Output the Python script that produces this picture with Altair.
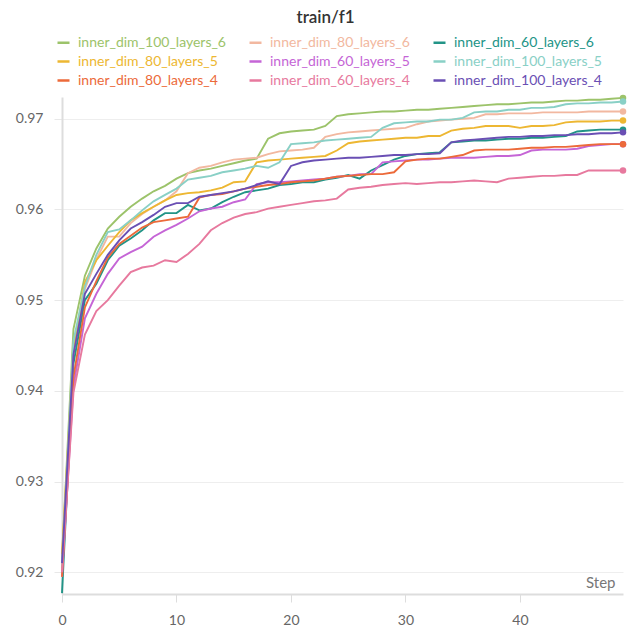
import altair as alt
import pandas as pd

steps = list(range(50))

series_names = [
    "inner_dim_100_layers_6", "inner_dim_80_layers_6", "inner_dim_60_layers_6",
    "inner_dim_80_layers_5", "inner_dim_60_layers_5", "inner_dim_100_layers_5",
    "inner_dim_80_layers_4", "inner_dim_60_layers_4", "inner_dim_100_layers_4",
]
series_colors = [
    "#9CC36A", "#F2B8A0", "#229487",
    "#EDB732", "#C565D6", "#89D0C6",
    "#EC6A3A", "#E7799E", "#6A4FB4",
]

dim100_l6 = [0.9215, 0.9468, 0.9527, 0.9557, 0.9579, 0.9592, 0.9603, 0.9612, 0.9620, 0.9626,
             0.9634, 0.9640, 0.9643, 0.9645, 0.9648, 0.9651, 0.9654, 0.9656, 0.9678, 0.9684,
             0.9686, 0.9687, 0.9688, 0.9692, 0.9703, 0.9705, 0.9706, 0.9707, 0.9708, 0.9708,
             0.9709, 0.9710, 0.9710, 0.9711, 0.9712, 0.9713, 0.9714, 0.9715, 0.9716, 0.9716,
             0.9717, 0.9718, 0.9718, 0.9719, 0.9720, 0.9720, 0.9721, 0.9721, 0.9722, 0.9723]
dim80_l6 = [0.9210, 0.9450, 0.9512, 0.9545, 0.9570, 0.9570, 0.9585, 0.9595, 0.9603, 0.9610,
            0.9620, 0.9640, 0.9646, 0.9648, 0.9652, 0.9655, 0.9656, 0.9657, 0.9661, 0.9664,
            0.9665, 0.9666, 0.9668, 0.9680, 0.9683, 0.9685, 0.9686, 0.9687, 0.9688, 0.9689,
            0.9690, 0.9694, 0.9697, 0.9698, 0.9699, 0.9700, 0.9701, 0.9705, 0.9705, 0.9706,
            0.9706, 0.9706, 0.9707, 0.9707, 0.9707, 0.9707, 0.9708, 0.9708, 0.9708, 0.9708]
dim60_l6 = [0.9177, 0.9430, 0.9500, 0.9518, 0.9544, 0.9560, 0.9568, 0.9577, 0.9588, 0.9596,
            0.9596, 0.9605, 0.9599, 0.9601, 0.9608, 0.9614, 0.9619, 0.9621, 0.9623, 0.9627,
            0.9628, 0.9630, 0.9630, 0.9633, 0.9635, 0.9638, 0.9634, 0.9643, 0.9649, 0.9655,
            0.9659, 0.9661, 0.9662, 0.9663, 0.9674, 0.9675, 0.9676, 0.9676, 0.9677, 0.9678,
            0.9678, 0.9679, 0.9679, 0.9680, 0.9681, 0.9686, 0.9687, 0.9688, 0.9688, 0.9688]
dim80_l5 = [0.9220, 0.9445, 0.9520, 0.9544, 0.9560, 0.9575, 0.9588, 0.9596, 0.9603, 0.9610,
            0.9616, 0.9618, 0.9619, 0.9621, 0.9624, 0.9630, 0.9631, 0.9652, 0.9654, 0.9655,
            0.9656, 0.9657, 0.9658, 0.9659, 0.9665, 0.9673, 0.9675, 0.9676, 0.9677, 0.9678,
            0.9679, 0.9679, 0.9681, 0.9681, 0.9687, 0.9689, 0.9690, 0.9692, 0.9692, 0.9692,
            0.9690, 0.9692, 0.9692, 0.9693, 0.9696, 0.9697, 0.9697, 0.9697, 0.9698, 0.9698]
dim60_l5 = [0.9195, 0.9405, 0.9480, 0.9507, 0.9529, 0.9546, 0.9553, 0.9559, 0.9570, 0.9577,
            0.9583, 0.9590, 0.9598, 0.9601, 0.9603, 0.9608, 0.9611, 0.9628, 0.9630, 0.9630,
            0.9631, 0.9632, 0.9633, 0.9634, 0.9636, 0.9637, 0.9639, 0.9639, 0.9652, 0.9653,
            0.9654, 0.9655, 0.9655, 0.9656, 0.9657, 0.9657, 0.9657, 0.9658, 0.9659, 0.9659,
            0.9660, 0.9665, 0.9666, 0.9666, 0.9666, 0.9667, 0.9670, 0.9671, 0.9672, 0.9672]
dim100_l5 = [0.9205, 0.9455, 0.9515, 0.9550, 0.9575, 0.9578, 0.9588, 0.9599, 0.9609, 0.9616,
             0.9623, 0.9633, 0.9635, 0.9637, 0.9641, 0.9643, 0.9645, 0.9648, 0.9646, 0.9652,
             0.9672, 0.9673, 0.9674, 0.9676, 0.9677, 0.9678, 0.9679, 0.9680, 0.9690, 0.9695,
             0.9696, 0.9697, 0.9697, 0.9699, 0.9699, 0.9701, 0.9707, 0.9708, 0.9708, 0.9710,
             0.9710, 0.9712, 0.9712, 0.9713, 0.9716, 0.9717, 0.9717, 0.9718, 0.9718, 0.9719]
dim80_l4 = [0.9195, 0.9415, 0.9492, 0.9521, 0.9547, 0.9562, 0.9571, 0.9580, 0.9586, 0.9588,
            0.9590, 0.9592, 0.9613, 0.9616, 0.9617, 0.9620, 0.9623, 0.9625, 0.9627, 0.9628,
            0.9630, 0.9631, 0.9632, 0.9634, 0.9636, 0.9637, 0.9638, 0.9639, 0.9639, 0.9641,
            0.9653, 0.9655, 0.9656, 0.9656, 0.9658, 0.9660, 0.9665, 0.9666, 0.9666, 0.9666,
            0.9667, 0.9668, 0.9668, 0.9669, 0.9669, 0.9670, 0.9671, 0.9672, 0.9672, 0.9672]
dim60_l4 = [0.9200, 0.9398, 0.9462, 0.9488, 0.9500, 0.9516, 0.9531, 0.9536, 0.9538, 0.9544,
            0.9542, 0.9551, 0.9562, 0.9577, 0.9585, 0.9591, 0.9595, 0.9597, 0.9601, 0.9603,
            0.9605, 0.9607, 0.9609, 0.9610, 0.9612, 0.9622, 0.9624, 0.9625, 0.9627, 0.9628,
            0.9629, 0.9628, 0.9629, 0.9630, 0.9630, 0.9631, 0.9632, 0.9631, 0.9630, 0.9634,
            0.9635, 0.9636, 0.9637, 0.9637, 0.9638, 0.9638, 0.9643, 0.9643, 0.9643, 0.9643]
dim100_l4 = [0.9210, 0.9440, 0.9507, 0.9529, 0.9550, 0.9566, 0.9579, 0.9586, 0.9594, 0.9603,
             0.9607, 0.9607, 0.9614, 0.9616, 0.9618, 0.9620, 0.9623, 0.9627, 0.9631, 0.9628,
             0.9648, 0.9652, 0.9654, 0.9655, 0.9656, 0.9657, 0.9657, 0.9658, 0.9659, 0.9660,
             0.9660, 0.9661, 0.9661, 0.9662, 0.9674, 0.9676, 0.9677, 0.9678, 0.9679, 0.9680,
             0.9680, 0.9681, 0.9681, 0.9682, 0.9682, 0.9683, 0.9683, 0.9684, 0.9684, 0.9685]

x_ticks = [0, 10, 20, 30, 40]
y_ticks = [0.92, 0.93, 0.94, 0.95, 0.96, 0.97]

all_series = [dim100_l6, dim80_l6, dim60_l6, dim80_l5, dim60_l5,
              dim100_l5, dim80_l4, dim60_l4, dim100_l4]

rows = []
for name, vals in zip(series_names, all_series):
    for s, v in zip(steps, vals):
        rows.append({"run": name, "step": s, "f1": v})
df = pd.DataFrame(rows)

color_scale = alt.Scale(domain=series_names, range=series_colors)
FONT = "Lato"

x_enc = alt.X(
    "step:Q",
    scale=alt.Scale(domain=[0, 49], nice=False),
    axis=alt.Axis(
        values=x_ticks, grid=False, labelFlush=False, format="d",
        domainColor="#dddddd", domainWidth=2, tickColor="#dddddd", tickSize=8,
        labelFontSize=14, labelColor="#666666", labelPadding=11, labelFont=FONT,
        title="Step", titleFont=FONT, titleFontSize=15, titleFontWeight="normal",
        titleColor="#777777", titleAlign="right", titleBaseline="bottom",
        titleX=553, titleY=-4, titleAnchor="end",
    ),
)
y_enc = alt.Y(
    "f1:Q",
    scale=alt.Scale(domain=[0.9176, 0.9724], nice=False, zero=False),
    axis=alt.Axis(
        values=y_ticks, format=".2f", grid=True, gridColor="#eeeeee",
        domainColor="#dddddd", domainWidth=2, tickColor="#e8e8e8", tickSize=8,
        labelFontSize=14, labelColor="#666666", labelPadding=11, labelFont=FONT,
        labelFlush=False, title=None,
    ),
)

lines = alt.Chart(df).mark_line(strokeWidth=1.9).encode(
    x=x_enc,
    y=y_enc,
    color=alt.Color(
        "run:N", scale=color_scale, sort=series_names,
        legend=alt.Legend(
            title=None, orient="none", legendX=-6, legendY=-62, direction="horizontal",
            columns=3, columnPadding=18, rowPadding=4, padding=0,
            symbolType="stroke", symbolSize=144, symbolStrokeWidth=2.5,
            labelFont=FONT, labelFontSize=14, labelOffset=7, labelLimit=300,
            labelColor={"expr": "scale('color', datum.value)"},
        ),
    ),
)

dots = alt.Chart(df).transform_filter("datum.step == 49").mark_circle(size=42, opacity=1).encode(
    x=x_enc,
    y=y_enc,
    color=alt.Color("run:N", scale=color_scale, sort=series_names, legend=None),
)

chart = alt.layer(lines, dots).properties(
    width=561,
    height=497,
    padding={"left": 62, "top": 97, "right": 9, "bottom": 39},
    autosize="none",
    title=alt.Title("train/f1", font=FONT, fontSize=17, fontWeight=600, color="#333333",
                    anchor="middle", frame="group", offset=8, dx=-17),
).configure_view(stroke=None)

chart.save("out.html", embed_options={"renderer": "svg", "actions": False})
